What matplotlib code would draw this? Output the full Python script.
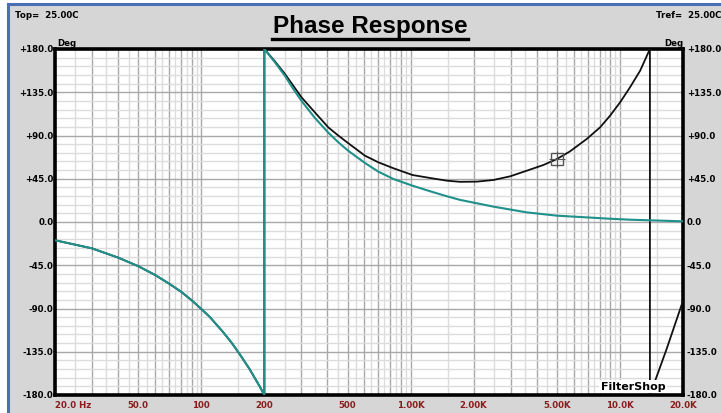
import numpy as np
import matplotlib.pyplot as plt
from matplotlib.lines import Line2D
from matplotlib.patches import Rectangle

# teal trace (frequency in Hz, phase in deg), wrap at 200 Hz
teal_f = [20, 30, 40, 50, 60, 70, 80, 90, 100, 110, 127, 140, 153, 170, 190, 200,
          200, 225, 251, 275, 301, 349, 404, 451, 504, 605, 701, 828, 1020, 1238,
          1488, 1722, 2070, 2484, 3589, 4993, 6939, 8966, 11170, 20000]
teal_deg = [-19, -27.4, -37, -46, -55, -64, -72.5, -81.5, -90.5, -99, -114.5, -126, -138, -153, -171, -180,
            180, 166, 152, 138.4, 126, 108.2, 93, 83, 74, 61.4, 52.4, 44.7, 37.8, 32,
            26.8, 23, 19.5, 16, 10, 6.6, 4.8, 3.4, 2.4, 0.7]

# black trace, wraps at 200 Hz and again near 13.9 kHz
black_f = [20, 30, 40, 50, 60, 70, 80, 90, 100, 110, 127, 140, 153, 170, 190, 200,
           200, 225, 251, 275, 301, 349, 404, 451, 504, 605, 701, 828, 1020, 1238,
           1488, 1722, 2070, 2484, 2985, 3589, 4305, 4993, 5771, 6939, 8036, 8966,
           10013, 11170, 12480, 13900,
           13900, 15250, 16730, 20000]
black_deg = [-19, -27.4, -37, -46, -55, -64, -72.5, -81.5, -90.5, -99, -114.5, -126, -138, -153, -171, -180,
             180, 167, 154, 141.8, 129.7, 114, 98.5, 90, 81.9, 69, 62.1, 55.9, 48.9, 45.8,
             43, 41.8, 42, 43.7, 47.5, 53.4, 59.3, 65.5, 73.5, 86.4, 98.5, 110.6,
             124.5, 140.2, 157.4, 180,
             -180, -156, -131.7, -82]

cursor_f = 5000
cursor_deg = 65.5

x_ticks = [20, 50, 100, 200, 500, 1000, 2000, 5000, 10000, 20000]
x_labels = ['20.0 Hz', '50.0', '100', '200', '500', '1.00K', '2.00K', '5.00K', '10.0K', '20.0K']
y_ticks = [180, 135, 90, 45, 0, -45, -90, -135, -180]
y_labels = ['+180.0', '+135.0', '+90.0', '+45.0', '0.0', '-45.0', '-90.0', '-135.0', '-180.0']

W, H = 721, 414
fig = plt.figure(figsize=(W / 100, H / 100), dpi=100)
fig.patch.set_facecolor('#d6d6d6')

# white margin and blue left/top border
fig.add_artist(Rectangle((0, 0), 7 / W, 1, transform=fig.transFigure,
                         facecolor='white', edgecolor='none'))
fig.add_artist(Rectangle((0, 1 - 4 / H), 1, 4 / H, transform=fig.transFigure,
                         facecolor='white', edgecolor='none'))
fig.add_artist(Line2D([8 / W, 8 / W], [0, 1 - 5 / H], color='#4a6fb5', lw=2.2,
                      transform=fig.transFigure))
fig.add_artist(Line2D([8 / W, 1], [1 - 5 / H, 1 - 5 / H], color='#4a6fb5', lw=2.2,
                      transform=fig.transFigure))

ax = fig.add_axes([55 / W, (H - 396) / H, 628 / W, 346 / H])
ax.set_facecolor('white')
ax.set_xscale('log')
ax.set_xlim(20, 20000)
ax.set_ylim(-180, 180)

# grid: darker lines at 1..9 per decade, light ones half way between
major_x = []
minor_x = []
for dec in [10, 100, 1000, 10000]:
    for m in range(1, 10):
        v = m * dec
        if 20 <= v <= 20000:
            major_x.append(v)
        h = (m + 0.5) * dec
        if 20 <= h <= 20000:
            minor_x.append(h)
for v in minor_x:
    ax.axvline(v, color='#dcdcdc', lw=1.0, zorder=1)
for v in major_x:
    ax.axvline(v, color='#a8a8a8', lw=1.0, zorder=1)
for v in np.arange(-180, 181, 9):
    if v % 45 != 0:
        ax.axhline(v, color='#dcdcdc', lw=1.0, zorder=1)
for v in y_ticks:
    ax.axhline(v, color='#a8a8a8', lw=1.0, zorder=1)

ax.plot(black_f, black_deg, color='#111111', lw=1.3, zorder=3)
ax.plot(teal_f, teal_deg, color='#20908a', lw=1.5, zorder=4)

# cursor marker
ax.plot([cursor_f], [cursor_deg], marker='s', ms=8, mfc='none', mec='#555555', mew=1.0, zorder=5)
ax.plot([cursor_f], [cursor_deg], marker='+', ms=12, mec='#555555', mew=0.8, zorder=5)

for s in ax.spines.values():
    s.set_linewidth(2.6)
    s.set_color('black')

ax.set_xticks([])
ax.set_yticks([])
ax.minorticks_off()
ax.tick_params(which='both', length=0)

tick_font = dict(family='DejaVu Sans', fontsize=6.2, fontweight='bold')
for v, lab in zip(x_ticks, x_labels):
    ax.text(v, -0.014, lab, transform=ax.get_xaxis_transform(),
            ha='left' if v == 20 else 'center', va='top', color='#8b1c1c', **tick_font)

for v, lab in zip(y_ticks, y_labels):
    ax.text(-0.002, v, lab, transform=ax.get_yaxis_transform(), ha='right', va='center',
            color='black', **tick_font)
    ax.text(1.006, v, lab, transform=ax.get_yaxis_transform(), ha='left', va='center',
            color='black', **tick_font)

fig.text(57 / W, 1 - 43 / H, 'Deg', ha='left', va='center', **tick_font)
fig.text(664 / W, 1 - 43 / H, 'Deg', ha='left', va='center', **tick_font)
fig.text(15 / W, 1 - 16 / H, 'Top=  25.00C', ha='left', va='center', **tick_font)
fig.text(656 / W, 1 - 16 / H, 'Tref=  25.00C', ha='left', va='center', **tick_font)

# title with underline
fig.text(370 / W, 1 - 27 / H, 'Phase Response', ha='center', va='center',
         family='Liberation Sans', fontsize=17.5, fontweight='bold')
fig.add_artist(Line2D([272 / W, 468 / W], [1 - 40 / H, 1 - 40 / H], color='black', lw=2.4,
                      transform=fig.transFigure))

ax.text(0.869, 0.025, 'FilterShop', transform=ax.transAxes, ha='left', va='center',
        family='DejaVu Sans', fontsize=8, fontweight='bold', color='black', zorder=6,
        bbox=dict(facecolor='white', edgecolor='none', pad=1))

fig.savefig('out.png', dpi=100, facecolor=fig.get_facecolor())
